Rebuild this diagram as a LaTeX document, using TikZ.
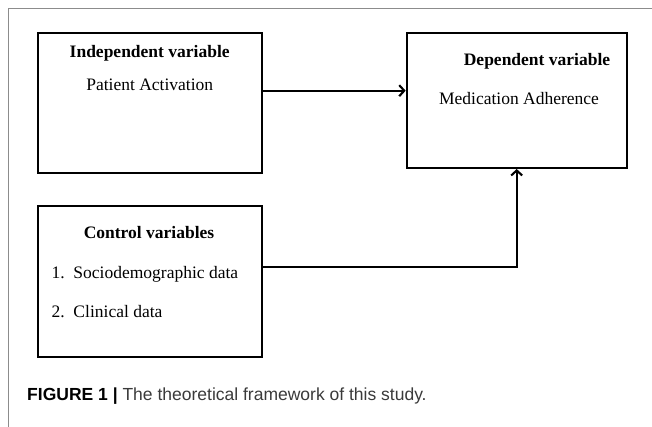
\documentclass[tikz,border=0pt]{standalone}
\usepackage{fontspec}
\setmainfont{Liberation Serif}
\newfontfamily\capfont{Liberation Sans}
\usetikzlibrary{arrows.meta,positioning}
\definecolor{framegray}{HTML}{8C8C8C}
\definecolor{capgray}{HTML}{3A3A3A}

\begin{document}
\begin{tikzpicture}[x=1pt, y=-1pt,
  varbox/.style={draw, line width=2.1pt, inner sep=0pt, minimum width=224pt},
  vartitle/.style={font=\fontsize{17.5}{20}\selectfont\bfseries, anchor=base, inner sep=0pt},
  vartext/.style={font=\fontsize{17.5}{20}\selectfont, anchor=base, inner sep=0pt},
  link/.style={line width=2.1pt, -{Straight Barb[length=5pt,width=11pt]}}]
  \useasboundingbox (0,0) rectangle (652,427);
  % outer frame
  \draw[framegray, line width=1pt] (8,427) -- (8,8.3) -- (652,8.3);

  % Independent variable
  \node[varbox, minimum height=140pt] (indep) at (149.7,103) {};
  \node[vartitle] (indepTitle) at (149.7,57.8) {Independent variable};
  \node[vartext] (indepText) at (149.7,90.5) {Patient Activation};

  % Dependent variable
  \node[varbox, minimum width=220pt, minimum height=135pt] (dep) at (516.7,100.5) {};
  \node[vartitle] (depTitle) at (537,65.5) {Dependent variable};
  \node[vartext] (depText) at (519,104.5) {Medication Adherence};

  % Control variables
  \node[varbox, minimum height=151pt] (ctrl) at (149.7,281.6) {};
  \node[vartitle] (ctrlTitle) at (149,238.5) {Control variables};
  \node[vartext, anchor=base west] (ctrlItemA) at (51.5,278) {\makebox[21.8pt][l]{1.}Sociodemographic data};
  \node[vartext, anchor=base west] (ctrlItemB) at (51.5,317) {\makebox[21.8pt][l]{2.}Clinical data};

  % connectors
  \coordinate (indepOut) at ([yshift=12.3pt]indep.east);
  \draw[link] (indepOut) -- (indepOut -| dep.west);
  \coordinate (ctrlOut) at ([yshift=14.9pt]ctrl.east);
  \draw[link] (ctrlOut) -| (dep.south);

  % caption
  \node[anchor=base west, inner sep=0pt, font=\capfont\fontsize{17.5}{20}\selectfont] (caption) at (27,400)
    {\textbf{FIGURE 1 |} \textcolor{capgray}{The theoretical framework of this study.}};
\end{tikzpicture}
\end{document}
